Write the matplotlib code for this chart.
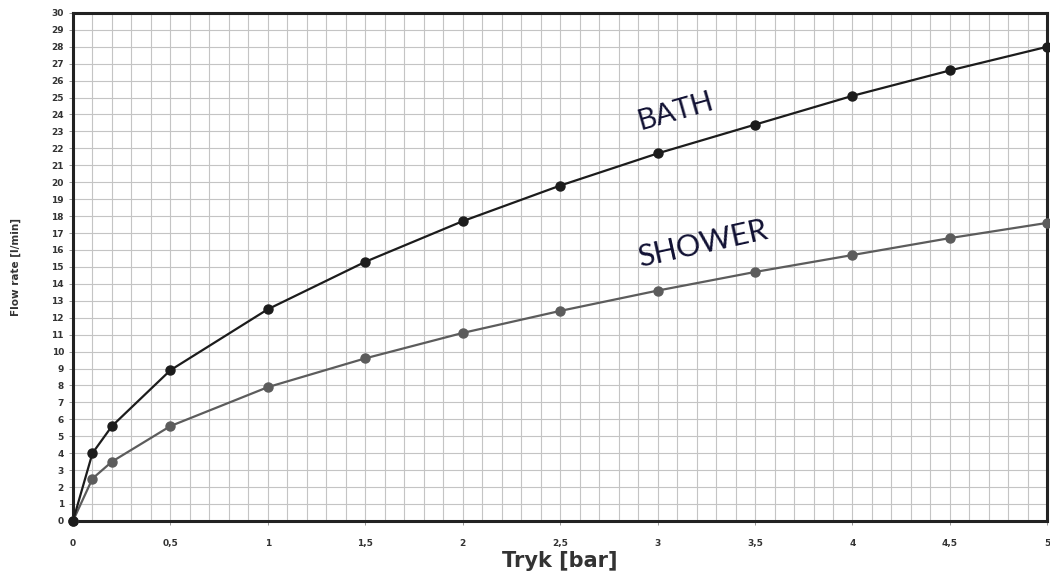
import matplotlib.pyplot as plt
from matplotlib.ticker import MultipleLocator, FuncFormatter

# tryk i bar
pressure = [0, 0.1, 0.2, 0.5, 1, 1.5, 2, 2.5, 3, 3.5, 4, 4.5, 5]
bath = [0, 4.0, 5.6, 8.9, 12.5, 15.3, 17.7, 19.8, 21.7, 23.4, 25.1, 26.6, 28.0]
shower = [0, 2.5, 3.5, 5.6, 7.9, 9.6, 11.1, 12.4, 13.6, 14.7, 15.7, 16.7, 17.6]

fig = plt.figure(figsize=(10.5, 5.84), dpi=100)
ax = fig.add_axes([0.0695, 0.108, 0.928, 0.870])

ax.plot(pressure, bath, color='#1c1c1c', lw=1.6, marker='o', ms=6.5, zorder=4, clip_on=False)
ax.plot(pressure, shower, color='#5c5c5c', lw=1.6, marker='o', ms=6.5, zorder=3, clip_on=False)

ax.set_xlim(0, 5)
ax.set_ylim(0, 30)
ax.xaxis.set_major_locator(MultipleLocator(0.5))
ax.xaxis.set_minor_locator(MultipleLocator(0.1))
ax.yaxis.set_major_locator(MultipleLocator(1))
ax.xaxis.set_major_formatter(FuncFormatter(lambda v, p: ('%g' % v).replace('.', ',')))

ax.grid(which='both', axis='x', color='#c4c4c4', lw=0.8)
ax.grid(which='major', axis='y', color='#c4c4c4', lw=0.8)
ax.set_axisbelow(True)

for s in ax.spines.values():
    s.set_linewidth(2.2)
    s.set_color('#222222')

ax.tick_params(axis='both', which='major', labelsize=6.5, length=3, width=0.6, color='#888888')
ax.tick_params(axis='x', which='minor', length=0)
ax.tick_params(axis='x', pad=10)
for lab in ax.get_xticklabels() + ax.get_yticklabels():
    lab.set_fontweight('bold')
    lab.set_color('#333333')

ax.set_xlabel('Tryk [bar]', fontsize=15, fontweight='bold', color='#333333', labelpad=2)
ax.set_ylabel('Flow rate [l/min]', fontsize=7.5, fontweight='bold', color='#333333', labelpad=22)

ax.text(2.91, 23.1, 'BATH', fontsize=21, rotation=16, color='#111133', ha='left', va='baseline',
        rotation_mode='anchor', family='Lato')
ax.text(2.91, 15.0, 'SHOWER', fontsize=22, rotation=12.5, color='#111133', ha='left', va='baseline',
        rotation_mode='anchor', family='Lato')

fig.savefig('out.png', dpi=100)
